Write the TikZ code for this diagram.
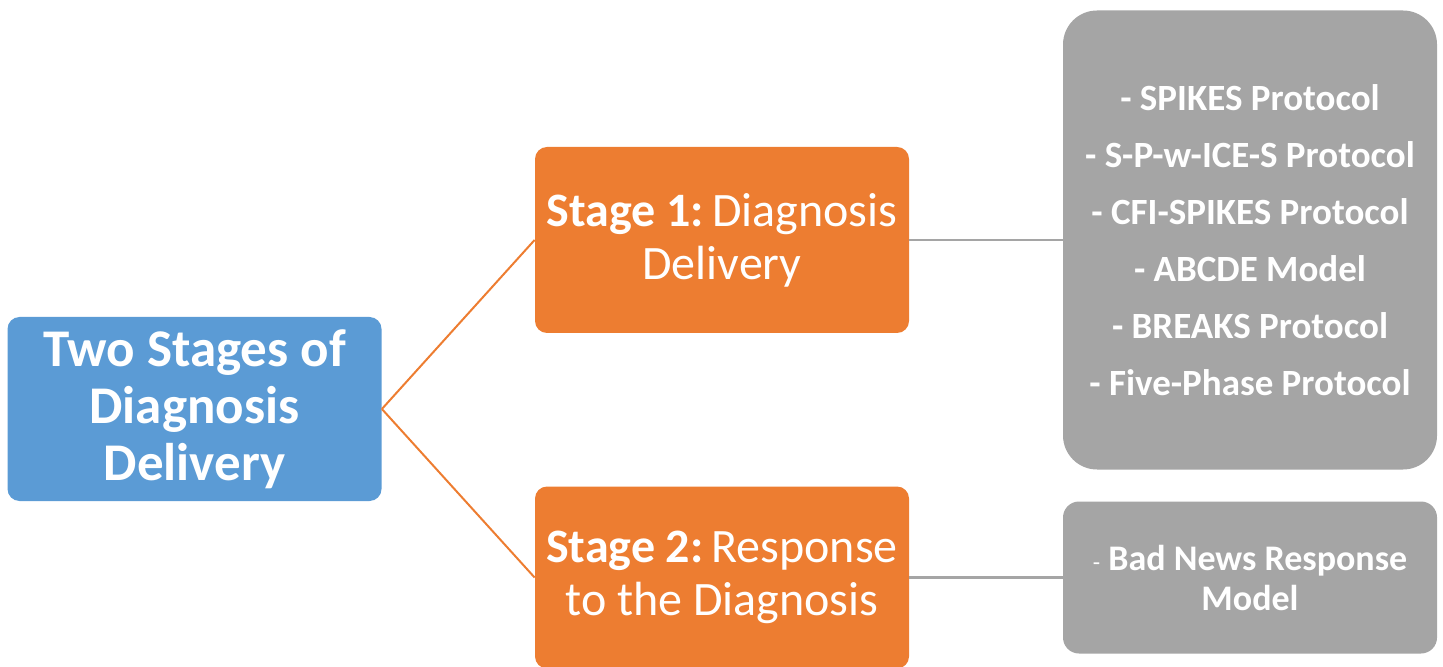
\documentclass[tikz,border=0pt]{standalone}
\usepackage{fontspec}
\setmainfont{Carlito}
\definecolor{rootblue}{HTML}{5B9BD5}
\definecolor{stageorange}{HTML}{ED7D31}
\definecolor{listgray}{HTML}{A5A5A5}
\begin{document}
\begin{tikzpicture}[x=0.5pt, y=-0.5pt,
        box/.style={text=white, align=center, inner sep=0pt, minimum width=187pt},
        rootbox/.style={box, fill=rootblue, rounded corners=6pt, minimum height=92pt,
            font=\fontsize{26.5}{28.5}\selectfont\bfseries},
        stagebox/.style={box, fill=stageorange, rounded corners=6pt,
            font=\fontsize{24}{26.5}\selectfont},
        listbox/.style={box, fill=listgray, font=\fontsize{18.5}{28.5}\selectfont\bfseries},
        orangeline/.style={stageorange, line width=1pt},
        grayline/.style={listgray, line width=1.2pt}]
    \useasboundingbox (0, 0) rectangle (1443, 667);

    \node[rootbox] (root) at (194.5, 409) {Two Stages of\\ Diagnosis\\ Delivery};

    \node[stagebox, minimum height=93pt] (stageone) at (722, 240) {\textbf{Stage 1:}\,Diagnosis\\ Delivery};
    \node[stagebox, minimum height=91pt] (stagetwo) at (722, 577.5) {\textbf{Stage 2:}\,Response\\ to the Diagnosis};

    \node[listbox, rounded corners=17pt, minimum height=229.5pt] (protocols) at (1250, 240)
        {- SPIKES Protocol\\ - S-P-w-ICE-S Protocol\\ - CFI-SPIKES Protocol\\ - ABCDE Model\\ - BREAKS Protocol\\ - Five-Phase Protocol};
    \node[listbox, rounded corners=8pt, minimum height=76pt, font=\fontsize{18}{20}\selectfont\bfseries] (response) at (1250, 577.5)
        {{\mdseries\fontsize{12}{20}\selectfont -} Bad News Response\\ Model};

    \draw[orangeline] (root.east) -- (stageone.west);
    \draw[orangeline] (root.east) -- (stagetwo.west);

    \draw[grayline] (stageone.east) -- (protocols.west);
    \draw[grayline] (stagetwo.east) -- (response.west);
\end{tikzpicture}
\end{document}
